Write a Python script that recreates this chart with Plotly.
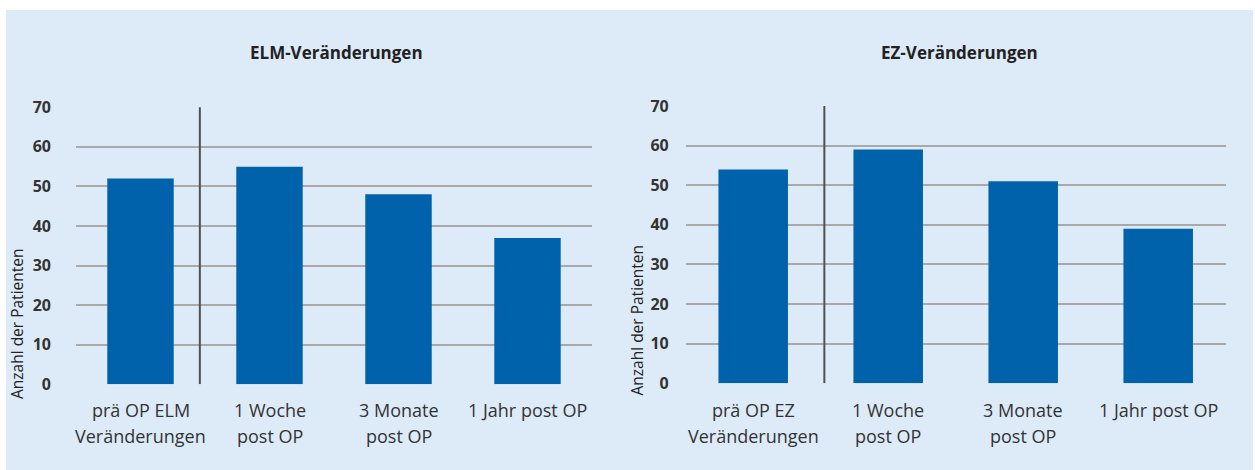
import plotly.graph_objects as go

# ---- data ----
titles = ["ELM-Veränderungen", "EZ-Veränderungen"]
categories_elm = ["prä OP ELM\nVeränderungen", "1 Woche\npost OP", "3 Monate\npost OP", "1 Jahr post OP"]
categories_ez = ["prä OP EZ\nVeränderungen", "1 Woche\npost OP", "3 Monate\npost OP", "1 Jahr post OP"]
values_elm = [52, 55, 48, 37]
values_ez = [54, 59, 51, 39]
y_ticks = [0, 10, 20, 30, 40, 50, 60, 70]
y_title = "Anzahl der Patienten"

# ---- styling ----
W, H = 1255, 470
BAR = "#0062ab"
GRID = "#a9a9a9"
SEP = "#505050"
TXT = "#333333"
PANEL = "#ddebf8"
FONT = "Open Sans"

def px(x):
    return x / W

def py(y):
    return (H - y) / H

fig = go.Figure()
ids = [list(range(4)), list(range(4))]
fig.add_trace(go.Bar(x=ids[0], y=values_elm, marker=dict(color=BAR, line=dict(width=0)),
                     xaxis="x", yaxis="y", showlegend=False, hoverinfo="skip"))
fig.add_trace(go.Bar(x=ids[1], y=values_ez, marker=dict(color=BAR, line=dict(width=0)),
                     xaxis="x2", yaxis="y2", showlegend=False, hoverinfo="skip"))

common_x = dict(showgrid=False, zeroline=False, showline=False, showticklabels=False,
                range=[-0.5, 3.5], fixedrange=True, automargin=False)
common_y = dict(range=[0, 70], tickvals=y_ticks, showgrid=True, gridcolor=GRID, gridwidth=2,
                zeroline=False, showline=False, automargin=False,
                tickfont=dict(family=FONT, size=16, color=TXT, weight="bold"))

fig.update_layout(
    width=W, height=H, autosize=False,
    margin=dict(l=0, r=0, t=0, b=0, pad=0, autoexpand=False),
    paper_bgcolor="white", plot_bgcolor="rgba(0,0,0,0)",
    bargap=0.485,
    font=dict(family=FONT, color=TXT),
    xaxis=dict(domain=[px(76), px(592)], anchor="y", **common_x),
    yaxis=dict(domain=[py(384.3), py(107.3)], anchor="x", ticklabelstandoff=24, **common_y),
    xaxis2=dict(domain=[px(685.7), px(1225.7)], anchor="y2", **common_x),
    yaxis2=dict(domain=[py(383.3), py(106)], anchor="x2", ticklabelstandoff=16, **common_y),
)

shapes = [dict(type="rect", xref="paper", yref="paper", x0=px(6), x1=px(1253), y0=0, y1=py(10),
               fillcolor=PANEL, line=dict(width=0), layer="below")]
sep_pos = [0.46, 0.527]
for i, (xr, yr) in enumerate([("x", "y"), ("x2", "y2")]):
    shapes.append(dict(type="line", xref=xr, yref=yr, x0=sep_pos[i], x1=sep_pos[i], y0=0, y1=70.5,
                       line=dict(color=SEP, width=2), layer="above"))
fig.update_layout(shapes=shapes)

ann = []
title_x = [336.5, 959]
for i, t in enumerate(titles):
    ann.append(dict(text=t, x=px(title_x[i]), y=py(52), xref="paper", yref="paper",
                    showarrow=False, font=dict(family=FONT, size=17, color="#222222", weight="bold"),
                    xanchor="center", yanchor="middle"))
ytitle_pos = [(17, 324), (636.5, 320)]
for (xx, yy) in ytitle_pos:
    ann.append(dict(text=y_title, x=px(xx), y=py(yy), xref="paper", yref="paper", textangle=-90,
                    showarrow=False, font=dict(family=FONT, size=15.5, color="#222222"),
                    xanchor="center", yanchor="middle"))
line_y = [410, 436]
for xr, cats in [("x", categories_elm), ("x2", categories_ez)]:
    for j, c in enumerate(cats):
        for k, part in enumerate(c.split("\n")):
            ann.append(dict(text=part, x=j, y=py(line_y[k]), xref=xr, yref="paper",
                            showarrow=False, font=dict(family=FONT, size=18, color=TXT),
                            xanchor="center", yanchor="middle"))
fig.update_layout(annotations=ann)

fig.write_html("out.html", config={"displayModeBar": False, "responsive": False},
               post_script="document.body.style.margin='0';document.body.style.overflow='hidden';")
